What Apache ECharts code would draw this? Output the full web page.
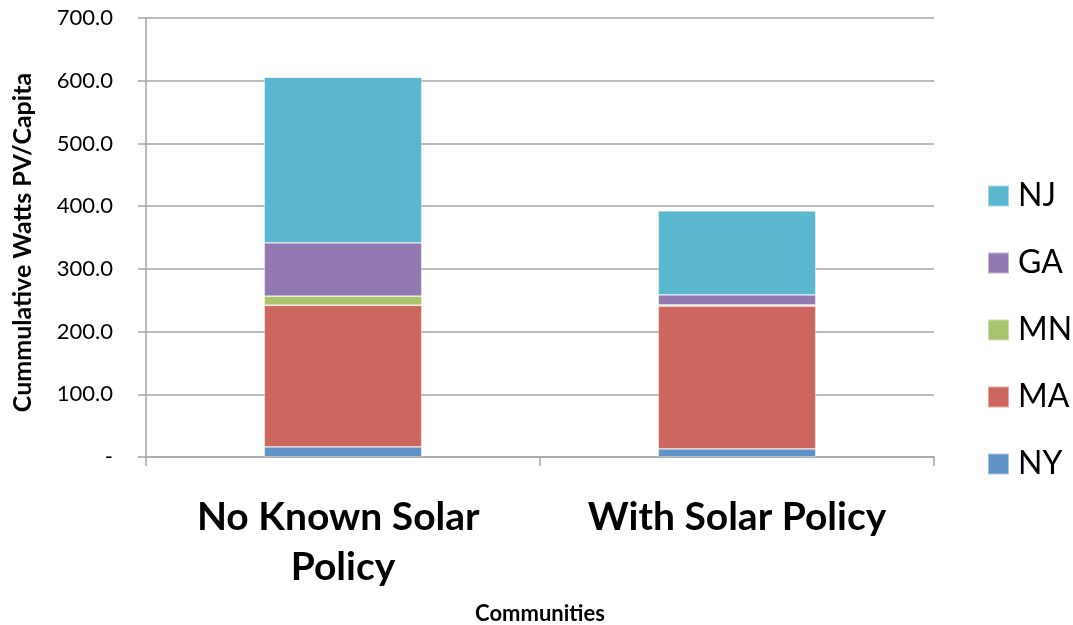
<!DOCTYPE html>
<html>
<head>
<meta charset="utf-8">
<script src="https://cdn.jsdelivr.net/npm/echarts@6/dist/echarts.min.js"></script>
<style>
  html, body { margin: 0; padding: 0; background: #ffffff; }
  #chart { width: 1073px; height: 625px; }
</style>
</head>
<body>
<div id="chart"></div>
<script>
// Community groups along the x axis
const categories = ['No Known Solar Policy', 'With Solar Policy'];

// Cumulative watts of PV per capita, stacked by state
const NY = [16, 13];
const MA = [226, 227.5];
const MN = [14.5, 2];
const GA = [85, 16];
const NJ = [264, 134];

const seriesNames = ['NY', 'MA', 'MN', 'GA', 'NJ'];
const seriesValues = [NY, MA, MN, GA, NJ];
const seriesColors = ['#5F93C8', '#CD665E', '#A9C46C', '#9379B1', '#5BB7D0'];
const legendOrder = ['NJ', 'GA', 'MN', 'MA', 'NY'];

const FONT = 'Lato, "Open Sans", sans-serif';
const GRID_GRAY = '#a6a6a6';

const chart = echarts.init(document.getElementById('chart'), null, { renderer: 'canvas' });

chart.setOption({
  backgroundColor: '#ffffff',
  animation: false,
  grid: {
    left: 146, right: 139, top: 18, bottom: 168,
    containLabel: false,
    outerBoundsMode: 'none'
  },
  legend: {
    data: legendOrder,
    orient: 'vertical',
    left: 987,
    top: 180,
    padding: 0,
    itemWidth: 21,
    itemHeight: 21,
    itemGap: 35,
    icon: 'rect',
    textStyle: { fontFamily: FONT, fontSize: 32, color: '#000', padding: [0, 0, 0, 4] }
  },
  xAxis: {
    type: 'category',
    data: categories,
    name: 'Communities',
    nameLocation: 'middle',
    nameGap: 146,
    nameTextStyle: { fontFamily: FONT, fontSize: 22, fontWeight: 'bold', color: '#000' },
    axisLine: { lineStyle: { color: GRID_GRAY, width: 1.5 } },
    axisTick: { show: true, length: 9, alignWithLabel: false, lineStyle: { color: GRID_GRAY, width: 1.5 } },
    axisLabel: {
      interval: 0,
      margin: 35,
      fontFamily: FONT,
      fontSize: 39,
      fontWeight: 'bold',
      color: '#000',
      width: 330,
      overflow: 'break',
      lineHeight: 50
    }
  },
  yAxis: {
    type: 'value',
    min: 0,
    max: 700,
    interval: 100,
    name: 'Cummulative Watts PV/Capita',
    nameLocation: 'middle',
    nameRotate: 90,
    nameGap: 111,
    nameTextStyle: {
      fontFamily: FONT, fontSize: 25, fontWeight: 'bold', color: '#000',
      padding: [0, 10, 0, 0]
    },
    axisLine: { show: true, lineStyle: { color: GRID_GRAY, width: 1.5 } },
    axisTick: { show: true, length: 8, lineStyle: { color: GRID_GRAY, width: 1.5 } },
    splitLine: { show: true, lineStyle: { color: GRID_GRAY, width: 1.5 } },
    axisLabel: {
      margin: 33,
      fontFamily: FONT,
      fontSize: 22,
      color: '#000',
      formatter: v => (v === 0 ? '-' : v.toFixed(1))
    }
  },
  series: seriesNames.map((name, i) => ({
    name,
    type: 'bar',
    stack: 'total',
    barWidth: '40%',
    data: seriesValues[i],
    itemStyle: { color: seriesColors[i], borderColor: 'rgba(255,255,255,0.45)', borderWidth: 0.8 }
  }))
});
</script>
</body>
</html>
